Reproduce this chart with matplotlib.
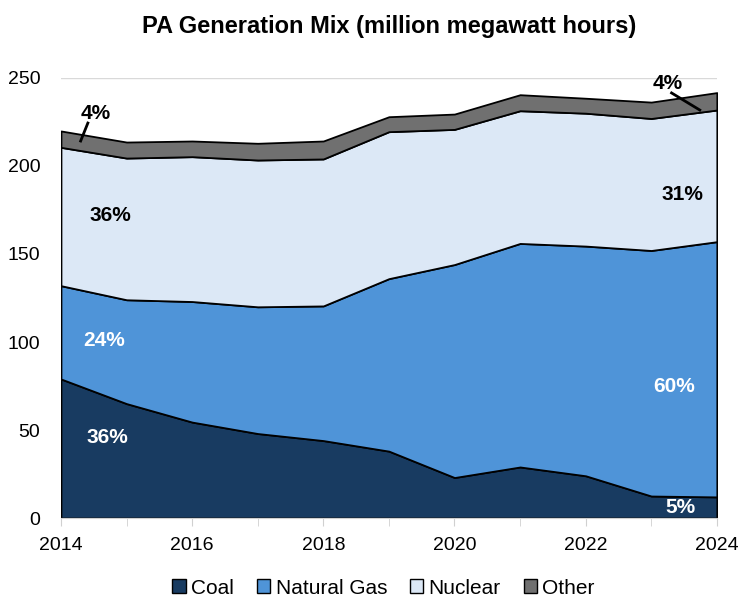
import matplotlib
matplotlib.use("Agg")
import matplotlib.pyplot as plt
from matplotlib.patches import Patch

plt.rcParams['font.family'] = ['Liberation Sans', 'DejaVu Sans']

# million MWh
years = [2014, 2015, 2016, 2017, 2018, 2019, 2020, 2021, 2022, 2023, 2024]
coal = [79, 65, 54.5, 48, 44, 38, 23, 29, 24, 12.5, 12]
gas = [53, 59, 68.5, 72, 76.5, 98, 121, 127, 130.5, 139.5, 145]
nuclear = [78.6, 80.5, 82.3, 83.4, 83.5, 83.5, 76.8, 75.4, 75.5, 75, 74.8]
other = [9.3, 9.1, 8.9, 9.5, 10.2, 8.5, 8.7, 9.1, 8.5, 9.3, 9.9]
names = ['Coal', 'Natural Gas', 'Nuclear', 'Other']
colors = ['#183b61', '#4f94d8', '#dce8f6', '#707070']

fig = plt.figure(figsize=(7.39, 5.99), dpi=100)
ax = fig.add_axes([0.0825, 0.1352, 0.8875, 0.7346])

ax.stackplot(years, coal, gas, nuclear, other, colors=colors,
             edgecolor='black', linewidth=1.3, zorder=2)

ax.set_xlim(2014, 2024)
ax.set_ylim(0, 250)
ax.set_yticks(range(0, 251, 50))
ax.set_xticks(range(2014, 2025, 2))
ax.set_xticks(years, minor=True)
ax.grid(axis='y', color='#d9d9d9', linewidth=1, zorder=0)
ax.set_axisbelow(True)
for s in ['top', 'right', 'left']:
    ax.spines[s].set_visible(False)
ax.spines['bottom'].set_color('#d0d0d0')
ax.tick_params(axis='y', length=0, labelsize=14, pad=15)
ax.tick_params(axis='x', which='both', length=6, color='#d0d0d0', labelsize=14, pad=8)

fig.text(0.527, 1 - 33 / 599, 'PA Generation Mix (million megawatt hours)',
         fontsize=17, fontweight='bold', ha='center', va='baseline')

# share labels
lab = dict(fontsize=15, fontweight='bold', ha='center', va='center')
ax.text(2014.53, 230, '4%', color='black', **lab)
ax.plot([2014.41, 2014.30], [224.4, 214.2], color='black', lw=2, zorder=3)
ax.text(2014.75, 172, '36%', color='black', **lab)
ax.text(2014.66, 101, '24%', color='white', **lab)
ax.text(2014.70, 46, '36%', color='white', **lab)
ax.text(2023.25, 247, '4%', color='black', **lab)
ax.plot([2023.31, 2023.74], [241.5, 231.8], color='black', lw=2, zorder=3)
ax.text(2023.47, 184, '31%', color='black', **lab)
ax.text(2023.35, 75, '60%', color='white', **lab)
ax.text(2023.45, 5.7, '5%', color='white', **lab)

handles = [Patch(facecolor=c, edgecolor='black', linewidth=1) for c in colors]
fig.legend(handles, names, loc='center', bbox_to_anchor=(0.519, 1 - 588 / 599),
           ncol=4, frameon=False, fontsize=15, handlelength=0.65, handleheight=0.65,
           handletextpad=0.25, columnspacing=1.1, borderpad=0, borderaxespad=0)

fig.savefig('out.png', dpi=100)
